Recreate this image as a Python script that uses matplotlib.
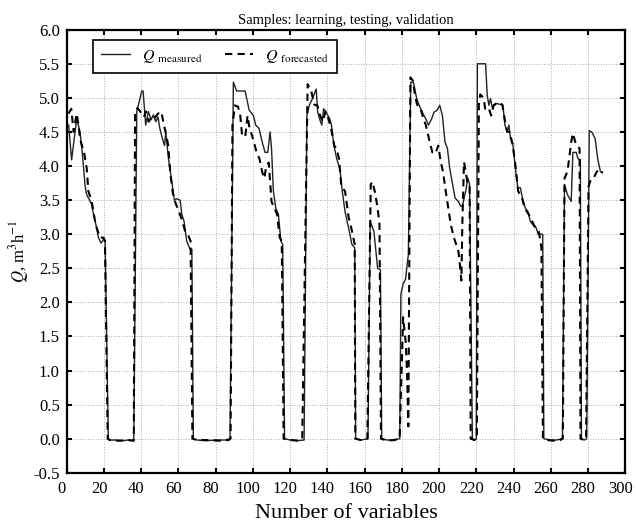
import matplotlib
matplotlib.use("Agg")
import matplotlib.pyplot as plt
import matplotlib.transforms as mtransforms
from matplotlib.ticker import MultipleLocator, FormatStrFormatter

plt.rcParams['font.family'] = ['Liberation Serif', 'DejaVu Serif']
plt.rcParams['mathtext.fontset'] = 'stix'

# Q measured: vertices
meas_x = [1, 2.6, 4, 5.3, 6, 7.1, 8.3, 9.8, 10.5, 11.2, 12.3, 13.4, 14.3, 15.2, 16, 17, 18.4, 19.3, 20, 20.6, 22.3,
          23, 26, 30, 33, 35, 36,
          37.6, 38.5, 40.3, 41, 42.4, 43.8, 45.3, 46.5, 47.8, 49, 50, 51.4, 52.5, 53.2, 54.6, 55.5, 56.4, 57.8, 59,
          60.9, 61.8, 63, 64.4, 66.2, 67.2, 68,
          70, 75, 80, 85, 87.7,
          89.5, 91.3, 95.8, 98, 100.3, 101.5, 103.3, 105, 106.5, 108, 109.2, 110, 111, 112.3, 113.7, 115, 116, 117,
          120, 124, 127.5,
          129, 130.3, 132, 134, 134.8, 135.8, 137, 138, 139.3, 141.3, 142.2, 143.5, 145, 146.8, 148, 149.5, 151.4,
          153.2, 154.7, 155.2,
          158, 161.8,
          163, 165, 167, 168.5, 169.2,
          172, 175, 178.9,
          179.5, 180.7, 182, 183.5, 184.8, 186.2, 188, 189.3, 191, 192.9, 194.3, 196, 197.3, 199, 200.4, 201.8,
          203.2, 204.5, 205.7, 207, 208.6, 210.4, 211.6, 212.5, 214.3, 215.5, 216.4, 217.9,
          219, 220,
          220.6, 225, 225.9, 226.8, 227.6, 228.6, 230.4, 232, 234.3, 235.4, 236.6, 237.5, 238.4, 239.6, 241, 242.3,
          243.7, 245, 246.4, 247.8, 249, 250.9, 252.1, 253.2, 254.5, 255.7, 256.3,
          260, 263, 266.3,
          267.4, 269, 271, 271.9, 273.7, 274.6, 275.9, 276.5,
          278, 279.3,
          280.7, 282, 283.9, 285.2, 286.7, 287.7]
meas_y = [4.6, 4.09, 4.4, 4.69, 4.62, 4.5, 4.2, 3.72, 3.6, 3.55, 3.5, 3.43, 3.3, 3.19, 3.1, 2.95, 2.87, 2.9, 2.95, 2.9, 0.0,
          -0.02, -0.02, -0.03, -0.02, -0.03, 0.0,
          4.8, 4.9, 5.1, 5.1, 4.6, 4.8, 4.68, 4.75, 4.65, 4.72, 4.55, 4.4, 4.3, 4.5, 4.11, 3.95, 3.77, 3.5, 3.52,
          3.5, 3.29, 3.19, 2.9, 2.78, 2.78, 0.0,
          -0.02, -0.03, -0.02, -0.02, 0.0,
          5.23, 5.1, 5.1, 4.82, 4.74, 4.6, 4.55, 4.35, 4.2, 4.2, 4.5, 4.26, 3.63, 3.38, 3.29, 2.9, 2.85, 0.0,
          -0.02, -0.03, -0.02,
          4.74, 4.89, 4.99, 5.13, 4.79, 4.69, 4.6, 4.84, 4.79, 4.69, 4.6, 4.3, 4.11, 3.94, 3.63, 3.33, 3.09,
          2.85, 2.8, 0.0,
          -0.02, 0.0,
          3.19, 3.04, 2.5, 2.48, 0.0,
          -0.02, -0.02, 0.0,
          2.12, 2.27, 2.34, 2.7, 5.23, 5.23, 4.99, 4.89, 4.79, 4.69, 4.6, 4.69, 4.79, 4.82, 4.89, 4.74,
          4.35, 4.26, 3.97, 3.77, 3.53, 3.48, 3.41, 3.41, 3.63, 3.82, 3.73, 0.0,
          -0.02, 0.0,
          5.5, 5.5, 5.03, 4.89, 4.99, 4.86, 4.92, 4.91, 4.89, 4.6, 4.5, 4.6, 4.4, 4.33, 3.97, 3.68,
          3.68, 3.5, 3.38, 3.33, 3.19, 3.12, 3.1, 3.0, 3.0, 3.0, 0.0,
          -0.02, -0.02, 0.0,
          3.73, 3.58, 3.48, 4.2, 4.2, 4.11, 4.09, 0.0,
          -0.02, 0.0,
          4.52, 4.5, 4.4, 4.11, 3.92, 3.9]

# Q forecasted
fc_x = [1, 2.4, 3.7, 5.3, 6.3, 7.1, 9.4, 10.7, 11.6, 13.4, 15.5, 17.8, 19.6, 20.5, 22,
        23, 28, 33, 36,
        36.7, 38, 40.3, 41.5, 42.5, 44, 45.5, 47, 48.5, 50, 51, 52.2, 53.5, 54.5, 55.6, 57, 58.5, 60, 62, 63.5,
        65, 66.5, 67.5,
        70, 76, 82, 87, 88,
        89, 90.4, 92, 93.2, 94.2, 95.9, 97.1, 98.2, 99.5, 102.2, 103.6, 104.9, 106.1, 107.2, 108.5, 110, 111.2,
        113, 114.4, 115.5, 116.5,
        120, 125, 126.5,
        129.4, 131.3, 133, 134.6, 136, 137.5, 139, 140.5, 142, 143.7, 145, 146.3, 147.5, 149.5, 151.4, 153.2,
        154.7, 155,
        158, 161.5,
        163.3, 164.2, 165.7, 167, 168, 168.8,
        172, 176, 178.8,
        180.7, 182.2, 182.9, 183.5,
        184.6, 186, 187, 188.2, 190, 191.5, 192.9, 194.6, 196.4, 198, 199.6, 200.9, 202.1, 203.6, 205, 206.3,
        208, 209.2, 210.4, 211.2, 212, 212.5, 213.4, 214.3, 215.2, 216.4, 217,
        219, 220.3,
        221.4, 222.1, 223.9, 224.8, 226.6, 228, 229.3, 232, 234, 235.5, 236.6, 238, 239.6, 241, 242.5, 244.6,
        246, 248.2, 250, 251.8, 253.6, 255, 255.8,
        258, 262, 265, 266.5,
        267.4, 269, 271, 271.9, 273.7, 275.5, 276,
        278, 279,
        280.3, 281.5, 283, 284.8, 286.7, 287.7]
fc_y = [4.77, 4.84, 4.5, 4.77, 4.6, 4.4, 4.18, 3.97, 3.63, 3.48, 3.14, 2.95, 2.95, 2.9, 0.0,
        -0.02, -0.03, -0.02, -0.03,
        4.8, 4.85, 4.77, 4.72, 4.8, 4.65, 4.72, 4.7, 4.75, 4.8, 4.77, 4.6, 4.45, 4.3, 3.9, 3.6, 3.45, 3.35, 3.2, 3.05,
        3.0, 2.9, 0.0,
        -0.02, -0.02, -0.03, -0.02, 0.0,
        4.6, 4.89, 4.87, 4.74, 4.45, 4.43, 4.74, 4.55, 4.45, 4.18, 4.1, 3.92, 3.82, 4.0, 4.05, 3.48, 3.4,
        3.29, 2.95, 2.9, 0.0,
        -0.02, -0.03, 0.0,
        5.2, 5.1, 4.9, 4.89, 4.75, 4.65, 4.8, 4.7, 4.55, 4.3, 4.25, 4.1, 3.7, 3.63, 3.25, 3.05,
        2.85, 0.0,
        -0.02, 0.0,
        3.73, 3.77, 3.6, 3.38, 3.14, 0.0,
        -0.03, -0.02, 0.0,
        1.78, 1.39, 0.86, 0.18,
        5.3, 5.25, 5.05, 4.9, 4.85, 4.7, 4.6, 4.4, 4.2, 4.18, 4.3, 4.06, 3.92, 3.63, 3.38, 3.14,
        2.95, 2.85, 2.75, 2.55, 2.32, 3.14, 4.06, 3.92, 3.77, 3.73, 0.0,
        -0.02, 0.0,
        4.9, 5.05, 5.0, 4.84, 4.86, 4.74, 4.89, 4.93, 4.9, 4.65, 4.5, 4.5, 4.3, 4.02, 3.63, 3.53,
        3.38, 3.29, 3.19, 3.09, 3.04, 2.8, 0.0,
        -0.02, -0.03, -0.02, 0.0,
        3.82, 3.92, 4.35, 4.48, 4.3, 4.26, 0.0,
        -0.02, 0.0,
        3.7, 3.8, 3.82, 3.92, 3.95, 3.9]

fig = plt.figure(figsize=(6.36, 5.3), dpi=100)
ax = fig.add_axes([0.105, 0.108, 0.878, 0.836])

ax.plot(meas_x, meas_y, color='#222222', lw=1.0, label=r'$Q$ $_{\rm measured}$')
ax.plot(fc_x, fc_y, color='black', lw=1.5, ls=(0, (3.5, 2.5)), label=r'$Q$ $_{\rm forecasted}$')

ax.set_xlim(0, 300)
ax.set_ylim(-0.5, 6.0)
ax.xaxis.set_major_locator(MultipleLocator(20))
ax.yaxis.set_major_locator(MultipleLocator(0.5))
ax.yaxis.set_major_formatter(FormatStrFormatter('%.1f'))
ax.tick_params(direction='in', length=3.5, width=1.5, top=True, right=True, labelsize=12)
ax.tick_params(axis='x', pad=6)
ax.tick_params(axis='y', pad=5)
ax.grid(True, ls=':', lw=0.7, color='#aaaaaa')
for s in ax.spines.values():
    s.set_linewidth(1.6)

# x tick labels sit a little left of their ticks in the original
shift = mtransforms.ScaledTranslation(-5 / 100, 0, fig.dpi_scale_trans)
for lab in ax.get_xticklabels():
    lab.set_transform(lab.get_transform() + shift)

ax.set_title('Samples: learning, testing, validation', fontsize=10.5, pad=4)
ax.set_xlabel('Number of variables', fontsize=16, labelpad=5)
ax.set_ylabel(r'$Q$, m$^3$h$^{-1}$', fontsize=12, labelpad=2)

leg = ax.legend(loc='upper left', bbox_to_anchor=(0.047, 0.977), ncol=2, fontsize=11.5,
                frameon=True, fancybox=False, edgecolor='black', framealpha=1,
                handlelength=1.8, columnspacing=1.4, borderpad=0.5, handletextpad=0.75,
                borderaxespad=0)
leg.get_frame().set_linewidth(1.2)

fig.savefig('out.png', dpi=100)
